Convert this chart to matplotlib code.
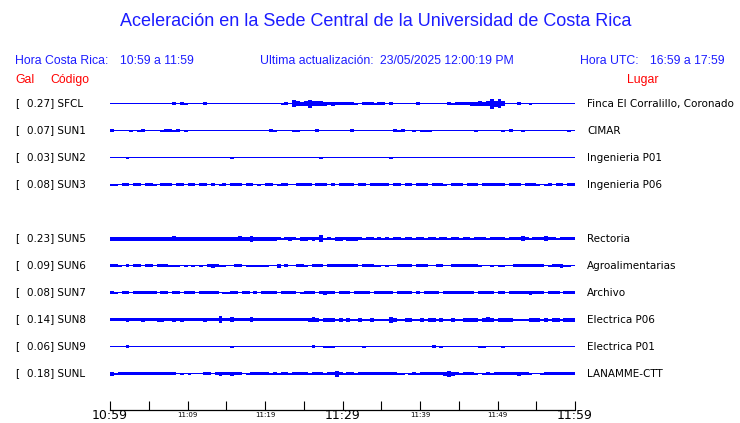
import numpy as np
import matplotlib
matplotlib.use("Agg")
import matplotlib.pyplot as plt
from matplotlib.transforms import blended_transform_factory

# station slots top to bottom (SUN4 has no data -> empty slot)
codes = ["SFCL", "SUN1", "SUN2", "SUN3", "SUN4", "SUN5", "SUN6", "SUN7", "SUN8", "SUN9", "SUNL"]
gal = [0.27, 0.07, 0.03, 0.08, None, 0.23, 0.09, 0.08, 0.14, 0.06, 0.18]
places = ["Finca El Corralillo, Coronado", "CIMAR", "Ingenieria P01", "Ingenieria P06", None,
          "Rectoria", "Agroalimentarias", "Archivo", "Electrica P06", "Electrica P01", "LANAMME-CTT"]

# amplitude envelope per 30 s window (120 windows = 10:59..11:59)
env_sfcl = "0000000000 0000002021 0000200000 0000000000 0000120643 4744432322 2221022212 2020000002 0000000212 2223343495 8400020010 0000000000"
env_sun1 = "2000010120 0001221201 0000000000 0000000000 0210000110 0002000000 0020000000 0002120010 1110000000 0000100000 0102001000 0000000010"
env_sun2 = "0000100000 0000000000 0000000000 0100000000 0000000000 0000100000 0000000000 0010000000 0000000000 0000000000 0000000000 0000000000"
env_sun3 = "1102202202 2102220220 2202202012 0222022010 2201220022 2202220202 2220220222 2202202202 2202221022 2022202222 2202220222 1012022022"
env_sun5 = "3333333333 3333334333 3333333333 3334335333 3332123213 3232612133 2333212212 1212212212 2122122122 1221222122 2212224212 2242212222"
env_sun6 = "2210202202 2022211101 0101023211 0022011111 1003020022 1022202222 2222022211 0100222202 2200220022 2222210010 1100222222 2201223110"
env_sun7 = "2102202222 2202202202 2202222201 1220220202 2220222201 2220232202 2202222022 2220222202 0222202222 2222022220 2202222232 2202220222"
env_sun8 = "2222322232 2233223232 2222322262 2422224222 2222222222 2343133313 1311311311 1153113311 3133131131 1333313431 3333111133 3131331333"
env_sun9 = "0000200000 0000000000 0000000000 0100000000 0000000000 0020011100 0000010000 0000000000 0002010000 0000011000 0100000000 0000000000"
env_sunl = "3122222222 2222222010 1000220232 2322012222 2121221222 2122212252 1221222222 2222110121 2222223532 1222101212 2222232210 0122222222"
envelopes = [env_sfcl, env_sun1, env_sun2, env_sun3, None, env_sun5, env_sun6, env_sun7, env_sun8, env_sun9, env_sunl]

big_ticks = [0, 30, 60]
big_labels = ["10:59", "11:29", "11:59"]
small_ticks = [5, 10, 15, 20, 25, 35, 40, 45, 50, 55]
small_labels = ["", "11:09", "", "11:19", "", "", "11:39", "", "11:49", ""]

W, H = 740, 423
BLUE = "#0000ff"
TXT_BLUE = "#1c1cff"
HEAD_FONT = ["Liberation Sans", "DejaVu Sans"]

fig = plt.figure(figsize=(W / 100, H / 100), dpi=100)

def fy(y):
    return 1 - y / H

# trace area: 10:59 at x=110px, 11:59 at x=575px, rows 27px apart,
# time axis line at y=409px (half-pixel offsets keep 1px lines crisp)
ax = fig.add_axes([110 / W, (H - 409.5) / H, 465 / W, (409.5 - 90.0) / H])
ax.set_xlim(0, 60)
ax.set_ylim(11.3333, -0.5)

px = 1 / 27.0  # one pixel in row units
trans = blended_transform_factory(fig.transFigure, ax.transData)

for row, (code, g, place, env) in enumerate(zip(codes, gal, places, envelopes)):
    if env is None:
        continue
    amp = np.array([int(c) for c in env.replace(" ", "")])
    edges = np.arange(len(amp) + 1) * 60 / len(amp)
    half = np.where(amp > 0, 0.5 + 0.5 * amp, 0) * px
    half = np.append(half, half[-1])
    ax.hlines(row, 0, 60, color=BLUE, lw=0.72, snap=False)
    ax.fill_between(edges, row - half, row + half, step="post",
                    color=BLUE, linewidth=0)
    ax.text(15 / W, row, "[", transform=trans, va="center", ha="left", fontsize=7.5)
    ax.text(27 / W, row, f"{g:.2f}] {code}", transform=trans, va="center", ha="left", fontsize=7.5)
    ax.text(587 / W, row, place, transform=trans, va="center", ha="left", fontsize=7.5)

for s in ["top", "left", "right"]:
    ax.spines[s].set_visible(False)
ax.spines["bottom"].set_linewidth(0.9)
ax.set_yticks([])
ax.set_xticks(big_ticks, labels=big_labels)
ax.set_xticks(small_ticks, labels=small_labels, minor=True)
ax.tick_params(axis="x", which="both", direction="in", length=6.5, width=0.8)
ax.tick_params(axis="x", which="major", labelsize=9, pad=-0.7)
ax.tick_params(axis="x", which="minor", labelsize=5, pad=2.0)

# header
fig.text(376 / W, fy(22), "Aceleración en la Sede Central de la Universidad de Costa Rica",
         ha="center", va="center", fontsize=13, color=TXT_BLUE, family=HEAD_FONT)
head = [(15, "Hora Costa Rica:"), (120, "10:59 a 11:59"),
        (260, "Ultima actualización:"), (380, "23/05/2025 12:00:19 PM"),
        (580, "Hora UTC:"), (650, "16:59 a 17:59")]
for x, s in head:
    fig.text(x / W, fy(61), s, ha="left", va="center", fontsize=8.8, color=TXT_BLUE, family=HEAD_FONT)
fig.text(15 / W, fy(80), "Gal", ha="left", va="center", fontsize=8.8, color="red", family=HEAD_FONT)
fig.text(50 / W, fy(80), "Código", ha="left", va="center", fontsize=8.8, color="red", family=HEAD_FONT)
fig.text(627 / W, fy(80), "Lugar", ha="left", va="center", fontsize=8.8, color="red", family=HEAD_FONT)

fig.savefig("out.png", dpi=100)
